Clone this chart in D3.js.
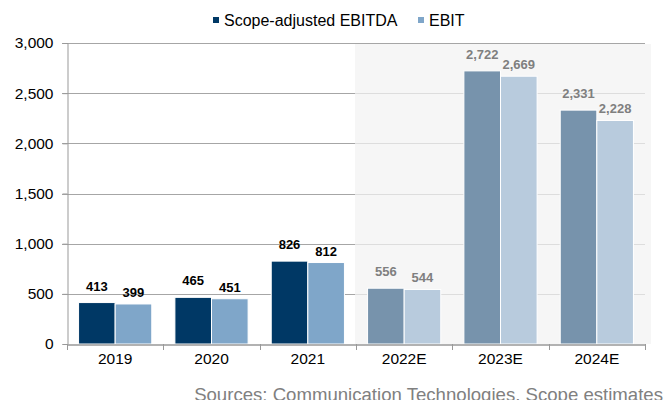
<!DOCTYPE html>
<html>
<head>
<meta charset="utf-8">
<script src="https://cdn.jsdelivr.net/npm/d3@7"></script>
<style>
  body { margin: 0; background: #fff; }
  text { font-family: "Liberation Sans", Arial, sans-serif; }
</style>
</head>
<body>
<div id="plot"></div>
<script>
// chart data
var years = ['2019', '2020', '2021', '2022E', '2023E', '2024E'];
var series = ['Scope-adjusted EBITDA', 'EBIT'];
var ebitda = [413, 465, 826, 556, 2722, 2331];
var ebit = [399, 451, 812, 544, 2669, 2228];
var forecast = [false, false, false, true, true, true];
var yTicks = [0, 500, 1000, 1500, 2000, 2500, 3000];

var svg_width = 667;
var svg_height = 400;
var plot_left = 67, plot_right = 645, plot_top = 43, plot_bottom = 344;

var svg = d3.select('#plot').append('svg')
    .attr('width', svg_width)
    .attr('height', svg_height);

var xscale = d3.scaleBand()
    .domain(years)
    .range([plot_left, plot_right])
    .paddingInner(0.24)
    .paddingOuter(0.12);

var x1 = d3.scaleBand()
    .domain(series)
    .range([0, xscale.bandwidth()]);

var yscale = d3.scaleLinear()
    .domain([0, 3000])
    .range([plot_bottom, plot_top]);

// gridlines
svg.append('g')
  .selectAll('line')
  .data(yTicks.slice(1))
  .enter().append('line')
    .attr('x1', plot_left - 5)
    .attr('x2', plot_right)
    .attr('y1', d => Math.round(yscale(d)) + 0.5)
    .attr('y2', d => Math.round(yscale(d)) + 0.5)
    .attr('stroke', '#a6a6a6')
    .attr('stroke-width', 1);

// shaded forecast area
var fStart = xscale('2022E') - xscale.step() * xscale.paddingInner() / 2;
svg.append('rect')
    .attr('x', fStart - 1)
    .attr('y', yscale(3000) + 1)
    .attr('width', plot_right + 6 - fStart + 1)
    .attr('height', yscale(0) - yscale(3000) - 1)
    .attr('fill', '#f3f3f3')
    .attr('opacity', 0.72);

var rows = years.map((y, i) => ({year: y, i: i, vals: [ebitda[i], ebit[i]]}));

var colors = {
  actual: ['#003865', '#7fa6c9'],
  est: ['#7793ac', '#b8cbdd']
};

var groups = svg.append('g')
  .selectAll('g')
  .data(rows)
  .enter().append('g')
    .attr('transform', d => 'translate(' + xscale(d.year) + ',0)');

groups.selectAll('rect')
  .data(d => d.vals.map((v, j) => ({v: v, j: j, est: forecast[d.i]})))
  .enter().append('rect')
    .attr('x', d => x1(series[d.j]))
    .attr('y', d => yscale(d.v))
    .attr('width', x1.bandwidth())
    .attr('height', d => yscale(0) - yscale(d.v))
    .attr('fill', d => d.est ? colors.est[d.j] : colors.actual[d.j])
    .attr('stroke', '#fff')
    .attr('stroke-width', 1);

groups.selectAll('text')
  .data(d => d.vals.map((v, j) => ({v: v, j: j, est: forecast[d.i]})))
  .enter().append('text')
    .attr('x', d => x1(series[d.j]) + x1.bandwidth() / 2)
    .attr('y', d => yscale(d.v) - (d.j == 0 ? 12 : 7))
    .attr('text-anchor', 'middle')
    .attr('font-size', '13px')
    .attr('font-weight', 'bold')
    .attr('fill', d => d.est ? '#7f7f7f' : '#000')
    .text(d => d3.format(',')(d.v));

// y axis
var yaxis = d3.axisLeft(yscale)
    .tickValues(yTicks)
    .tickFormat(d3.format(','))
    .tickSize(5)
    .tickPadding(9);

var yg = svg.append('g')
    .attr('transform', 'translate(' + (plot_left + 0.5) + ',0)')
    .call(yaxis);
yg.select('.domain').attr('stroke', '#999');
yg.selectAll('.tick line').attr('stroke', '#999');
yg.selectAll('.tick text')
    .attr('font-size', '15.5px')
    .attr('font-family', '"Liberation Sans", Arial, sans-serif')
    .attr('fill', '#000');

// x axis
var xaxis = d3.axisBottom(xscale)
    .tickSize(0)
    .tickPadding(8);

var xg = svg.append('g')
    .attr('transform', 'translate(0,' + (plot_bottom + 0.5) + ')')
    .call(xaxis);
xg.select('.domain').attr('stroke', '#999').attr('stroke-width', 1.5);
xg.selectAll('.tick text')
    .attr('font-size', '15.5px')
    .attr('font-family', '"Liberation Sans", Arial, sans-serif')
    .attr('fill', '#000');

// x ticks between categories
var bounds = years.map(y => xscale(y) - xscale.step() * xscale.paddingInner() / 2);
bounds.push(plot_right);
svg.append('g')
  .selectAll('line')
  .data(bounds)
  .enter().append('line')
    .attr('x1', d => Math.round(d) + 0.5)
    .attr('x2', d => Math.round(d) + 0.5)
    .attr('y1', plot_bottom)
    .attr('y2', plot_bottom + 6)
    .attr('stroke', '#999');

// legend
var legend = svg.append('g');
var legendItems = [
  {name: series[0], x: 213, color: colors.actual[0]},
  {name: series[1], x: 418, color: colors.actual[1]}
];
legend.selectAll('rect')
  .data(legendItems)
  .enter().append('rect')
    .attr('x', d => d.x)
    .attr('y', 17)
    .attr('width', 6)
    .attr('height', 6)
    .attr('fill', d => d.color);
legend.selectAll('text')
  .data(legendItems)
  .enter().append('text')
    .attr('x', d => d.x + 11)
    .attr('y', 25.5)
    .attr('font-size', '16px')
    .attr('fill', '#000')
    .text(d => d.name);

// source note
svg.append('text')
    .attr('x', 663)
    .attr('y', 401)
    .attr('text-anchor', 'end')
    .attr('font-size', '18.6px')
    .attr('fill', '#808080')
    .text('Sources: Communication Technologies, Scope estimates');
</script>
</body>
</html>
